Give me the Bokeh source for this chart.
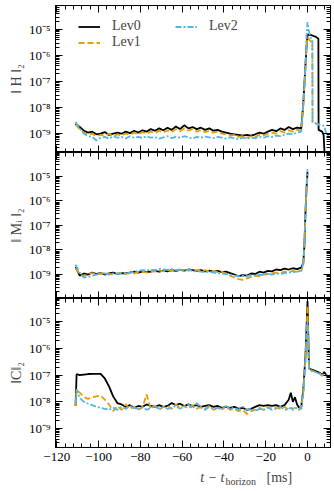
from bokeh.plotting import figure
from bokeh.layouts import column
from bokeh.models import (FixedTicker, LinearAxis, LogAxis, Range1d, CustomJSTickFormatter,
                          Legend, LegendItem, Label)
from bokeh.embed import file_html
from bokeh.resources import INLINE

# ---------------- data (values in units of 1e-9) ----------------
T_BASE = [-111, -109, -107, -105, -103, -101, -99, -97, -95, -93,
          -91, -89, -87, -85, -83, -81, -79, -77, -75, -73,
          -71, -69, -67, -65, -63, -61, -59, -57, -55, -53,
          -51, -49, -47, -45, -43, -41, -39, -37, -35, -33,
          -31, -29, -27, -25, -23, -21, -19, -17, -15, -13,
          -11, -9, -7, -5, -3]

# Hamiltonian constraint ||H||_2
H0 = [2.4, 1.8, 1.3, 1.1, 1.2, 0.95, 1.0, 1.15, 0.9, 1.0,
      1.1, 1.0, 1.2, 1.05, 1.3, 1.1, 1.35, 1.2, 1.5, 1.3,
      1.6, 1.35, 1.7, 1.4, 1.9, 1.5, 2.1, 1.6, 1.8, 1.5,
      1.7, 1.4, 1.6, 1.3, 1.4, 1.2, 1.1, 1.0, 0.95, 0.9,
      0.85, 0.9, 0.85, 0.95, 1.1, 1.0, 1.2, 1.4, 1.25, 1.6,
      1.4, 1.8, 1.5, 1.7, 1.6]
H0_TAIL_T = [-2, -1, -0.5, 0, 2, 4, 5.2, 5.3, 7, 7.7, 8.2]
H0_TAIL = [15, 400, 2000, 6400, 6000, 5200, 4400, 1.4, 1.2, 0.9, 0.15]

H1 = [2.2, 1.5, 1.1, 0.9, 1.0, 0.8, 0.9, 0.85, 1.0, 0.8,
      0.95, 0.85, 1.0, 0.9, 1.1, 0.95, 1.15, 1.0, 1.2, 1.05,
      1.3, 1.1, 1.35, 1.15, 1.5, 1.25, 1.6, 1.3, 1.5, 1.2,
      1.4, 1.15, 1.3, 1.1, 1.2, 1.0, 0.95, 0.85, 0.9, 0.75,
      0.8, 0.7, 0.8, 0.75, 0.9, 0.85, 1.0, 1.1, 1.0, 1.25,
      1.1, 1.35, 1.2, 1.4, 1.3]
H1_TAIL_T = [-2, -1, -0.5, 0, 1, 2.3, 2.4, 4, 6]
H1_TAIL = [12, 300, 2000, 5000, 4000, 3000, 2.8, 2.4, 2.2]

H2 = [2.8, 1.6, 1.0, 0.8, 0.75, 0.55, 0.7, 0.75, 0.65, 0.8,
      0.7, 0.75, 0.65, 0.8, 0.7, 0.75, 0.68, 0.8, 0.7, 0.75,
      0.65, 0.72, 0.8, 0.68, 0.75, 0.7, 0.8, 0.72, 0.65, 0.75,
      0.7, 0.78, 0.72, 0.68, 0.75, 0.7, 0.65, 0.72, 0.68, 0.62,
      0.7, 0.65, 0.72, 0.68, 0.75, 0.7, 0.8, 0.75, 0.85, 0.8,
      0.9, 1.0, 0.95, 1.1, 1.2]
H2_TAIL_T = [-2, -1, -0.5, 0, 0.5, 1.5, 2.3, 2.4, 4, 6, 8, 9, 10]
H2_TAIL = [14, 400, 5000, 19000, 10000, 5000, 4000, 2.8, 2.5, 2.2, 2.0, 1.0, 0.8]

# Momentum constraint ||M_i||_2
M_TAIL_T = [-2, -1.5, -1, -0.5, 0]
M0 = [2.0, 0.9, 1.1, 1.0, 1.2, 1.05, 1.15, 1.0, 1.1, 1.2,
      1.05, 1.15, 1.1, 1.2, 1.3, 1.2, 1.35, 1.25, 1.3, 1.4,
      1.3, 1.45, 1.35, 1.5, 1.4, 1.55, 1.45, 1.6, 1.5, 1.4,
      1.5, 1.35, 1.45, 1.3, 1.4, 1.25, 1.3, 1.15, 1.0, 0.85,
      0.95, 0.9, 1.1, 1.05, 1.3, 1.2, 1.4, 1.35, 1.6, 1.5,
      1.75, 1.6, 1.8, 1.65, 1.9]
M0_TAIL = [3, 15, 300, 3000, 15000]
M1 = [1.8, 1.0, 0.85, 1.05, 1.15, 1.0, 1.1, 1.15, 1.05, 1.0,
      1.1, 1.2, 1.05, 1.15, 1.1, 1.25, 1.3, 1.2, 1.4, 1.3,
      1.45, 1.35, 1.5, 1.4, 1.6, 1.5, 1.55, 1.45, 1.6, 1.5,
      1.4, 1.5, 1.35, 1.4, 1.25, 1.3, 1.1, 0.9, 0.75, 0.65,
      0.6, 0.7, 0.8, 0.9, 0.85, 1.0, 1.05, 1.1, 1.2, 1.15,
      1.3, 1.25, 1.4, 1.3, 1.45]
M1_TAIL = [2.5, 12, 250, 2500, 10000]
M2 = [2.5, 1.2, 0.75, 0.8, 0.9, 1.0, 1.05, 1.1, 1.0, 1.1,
      1.05, 1.15, 1.1, 1.2, 1.3, 1.4, 1.5, 1.45, 1.6, 1.5,
      1.7, 1.6, 1.55, 1.65, 1.5, 1.6, 1.45, 1.55, 1.4, 1.35,
      1.3, 1.25, 1.3, 1.2, 1.15, 1.1, 1.05, 1.0, 0.9, 0.85,
      0.9, 0.85, 0.95, 0.9, 1.0, 0.95, 1.05, 1.0, 1.1, 1.05,
      1.15, 1.2, 1.25, 1.3, 1.4]
M2_TAIL = [3, 16, 350, 4000, 20000]

# ||C||_2
T_C = [-111, -110.5, -109, -107, -105, -103, -101, -99, -97, -95,
       -93, -91, -89, -87, -85, -83, -81, -79, -77, -75,
       -73, -71, -69, -67, -65, -63, -61, -59, -57, -55,
       -53, -51, -49, -47, -45, -43, -41, -39, -37, -35,
       -33, -31, -29, -27, -25, -23, -21, -19, -17, -15,
       -13, -11, -9, -8, -7, -6, -5, -4, -3, -2,
       -1, -0.5, 0, 0.7, 1, 3, 5, 6, 7, 8,
       10]
C0 = [7, 110, 100, 105, 110, 112, 112, 112, 75, 38,
      16, 9, 8, 6.5, 7.5, 6, 7, 6.5, 8, 7,
      6.5, 7.5, 6.5, 7, 9, 7.5, 8.5, 7, 8, 7,
      7.5, 6.5, 7, 7.5, 6.5, 7, 6, 6.5, 6, 6.5,
      5.5, 6, 5, 5.5, 6.5, 7.5, 7, 7.5, 7, 7.5,
      6.5, 7.5, 12, 22, 10, 15, 8, 6, 6.5, 30,
      500, 5000, 60000, 200, 170, 150, 130, 120, 100, 130,
      80]
C1 = [7, 28, 22, 15, 13, 15, 16, 17, 12, 8,
      4.5, 7, 5, 8, 5.5, 6.5, 5, 6, 19, 5.5,
      7, 5, 6.5, 7, 5.5, 8, 6, 7, 5.5, 7.5,
      5.5, 6.5, 5.5, 7, 5, 6, 5.5, 6.5, 5, 5.5,
      4.5, 5, 3.5, 4.5, 5, 6, 5, 6.5, 5.5, 6,
      5.5, 6.5, 5, 6, 5.5, 6, 5.5, 5, 7, 25,
      400, 3000, 40000, 200, 160, 140, 120, 110, 95, 110,
      90]
C2 = [9, 30, 14, 10, 8.5, 7.5, 6.5, 6, 5.5, 5,
      6, 5, 6.5, 5.5, 7, 6, 5.5, 6.5, 5, 6,
      7, 5.5, 6.5, 5.5, 6, 7, 5.5, 6.5, 8, 5.5,
      9, 6, 5, 6.5, 5.5, 6, 5, 7, 5.5, 6,
      5, 6.5, 5, 5.5, 4.5, 5.5, 5, 6, 5, 5.5,
      6.5, 5, 5.5, 6, 5, 5.5, 6, 5.5, 5.5, 20,
      300, 3000, 10000, 200, 150, 135, 120, 115, 100, 110,
      80]

LABELS = ["Lev0", "Lev1", "Lev2"]
X_TICKS = [-120, -100, -80, -60, -40, -20, 0]
Y_TICKS = [1e-9, 1e-8, 1e-7, 1e-6, 1e-5]

# ---------------- styling ----------------
COLORS = ["black", "#E69F00", "#56B4E9"]
DASHES = ["solid", "6 3", "6 2 2 2"]
WIDTHS = [1.8, 1.8, 1.8]
FONT = "Liberation Serif"
X_MINOR = list(range(-120, 12, 4))
Y_MINOR = [k * 10.0 ** n for n in range(-11, -3) for k in range(1, 10)]
LEFT, RIGHT, FRAME_W = 55, 4, 275

xfmt = CustomJSTickFormatter(code="return tick < 0 ? '\\u2212' + Math.abs(tick) : String(tick);")
yfmt = CustomJSTickFormatter(code="""
const sup = {'-': '\\u207b', '0': '\\u2070', '1': '\\u00b9', '2': '\\u00b2', '3': '\\u00b3',
             '4': '\\u2074', '5': '\\u2075', '6': '\\u2076', '7': '\\u2077', '8': '\\u2078', '9': '\\u2079'};
const e = Math.round(Math.log10(tick));
return '10' + String(e).split('').map(c => sup[c]).join('');
""")


def style_axis(ax, show_labels):
    ax.major_tick_in = 7
    ax.major_tick_out = 0
    ax.minor_tick_in = 4
    ax.minor_tick_out = 0
    ax.axis_line_color = "black"
    ax.major_tick_line_color = "black"
    ax.minor_tick_line_color = "black"
    ax.major_label_text_font = FONT
    if show_labels:
        ax.major_label_text_color = "black"
    else:
        ax.major_label_text_font_size = "0px"
        ax.major_label_standoff = 0
        ax.major_label_text_color = None


def make_panel(yrange, frame_h, top, bottom, ylabel, show_x):
    p = figure(frame_width=FRAME_W, frame_height=frame_h,
               x_range=Range1d(-120.6, 11), y_range=Range1d(*yrange),
               y_axis_type="log", output_backend="svg", toolbar_location=None,
               min_border_left=LEFT, min_border_right=RIGHT,
               min_border_top=top, min_border_bottom=bottom)
    p.xgrid.visible = False
    p.ygrid.visible = False
    p.outline_line_color = "black"
    p.outline_line_alpha = 1.0
    p.outline_line_width = 1
    p.xaxis.ticker = FixedTicker(ticks=X_TICKS, minor_ticks=X_MINOR)
    p.xaxis.formatter = xfmt
    style_axis(p.xaxis[0], show_x)
    p.xaxis.major_label_text_font_size = "13px" if show_x else "0px"
    p.xaxis.major_label_standoff = 5 if show_x else 0
    p.yaxis.ticker = FixedTicker(ticks=Y_TICKS, minor_ticks=Y_MINOR)
    p.yaxis.formatter = yfmt
    style_axis(p.yaxis[0], True)
    p.yaxis.major_label_text_font_size = "13px"
    p.yaxis.major_label_standoff = 5
    p.yaxis.axis_label = ylabel
    p.yaxis.axis_label_text_font = FONT
    p.yaxis.axis_label_text_font_size = "14px"
    p.yaxis.axis_label_text_font_style = "normal"
    p.yaxis.axis_label_standoff = 2
    ax_top = LinearAxis(ticker=FixedTicker(ticks=X_TICKS, minor_ticks=X_MINOR))
    style_axis(ax_top, False)
    p.add_layout(ax_top, "above")
    ax_right = LogAxis(ticker=FixedTicker(ticks=Y_TICKS, minor_ticks=Y_MINOR))
    style_axis(ax_right, False)
    p.add_layout(ax_right, "right")
    return p


def nano(vals):
    return [v * 1e-9 for v in vals]


p1 = make_panel((1.9e-10, 8.3e-5), 147, 5, 0, "\u2016 H \u2016\u2082", False)
p2 = make_panel((1.05e-10, 9.5e-5), 146, 0, 0, "\u2016 M\u1d62 \u2016\u2082", False)
p3 = make_panel((1.95e-10, 7.4e-5), 149, 0, 20, "\u2016C\u2016\u2082", True)

H_SERIES = [(T_BASE + H0_TAIL_T, H0 + H0_TAIL),
            (T_BASE + H1_TAIL_T, H1 + H1_TAIL),
            (T_BASE + H2_TAIL_T, H2 + H2_TAIL)]
M_SERIES = [(T_BASE + M_TAIL_T, M0 + M0_TAIL),
            (T_BASE + M_TAIL_T, M1 + M1_TAIL),
            (T_BASE + M_TAIL_T, M2 + M2_TAIL)]
C_SERIES = [(T_C, C0), (T_C, C1), (T_C, C2)]

for tt, vv in H_SERIES + M_SERIES + C_SERIES:
    assert len(tt) == len(vv), (len(tt), len(vv))

renderers = []
for i, (tt, vv) in enumerate(H_SERIES):
    r = p1.line(tt, nano(vv), line_color=COLORS[i], line_width=WIDTHS[i], line_dash=DASHES[i])
    renderers.append(r)
for i, (tt, vv) in enumerate(M_SERIES):
    p2.line(tt, nano(vv), line_color=COLORS[i], line_width=WIDTHS[i], line_dash=DASHES[i])
for i, (tt, vv) in enumerate(C_SERIES):
    p3.line(tt, nano(vv), line_color=COLORS[i], line_width=WIDTHS[i], line_dash=DASHES[i])

legend = Legend(items=[LegendItem(label=LABELS[i], renderers=[renderers[i]]) for i in range(3)],
                ncols=2, location=(23, 102), padding=0, margin=0, spacing=0,
                border_line_color=None, background_fill_alpha=0,
                glyph_width=22, glyph_height=13, label_height=13, label_width=63,
                label_standoff=12, label_text_font=FONT, label_text_font_size="14px")
p1.add_layout(legend)

# x-axis title strip: a bare canvas whose frame is the whole strip
title = figure(width=LEFT + FRAME_W + RIGHT, height=23, x_range=Range1d(0, 1), y_range=Range1d(0, 1),
               output_backend="svg", toolbar_location=None,
               x_axis_location=None, y_axis_location=None,
               min_border_left=0, min_border_right=0, min_border_top=0, min_border_bottom=0)
title.outline_line_color = None
title.xgrid.visible = False
title.ygrid.visible = False
title.add_layout(Label(x=169, y=13, x_units="screen", y_units="screen", text="t \u2212 t",
                       text_align="right", text_baseline="alphabetic", text_font=FONT,
                       text_font_size="14px", text_font_style="italic"))
title.add_layout(Label(x=170, y=9, x_units="screen", y_units="screen", text="horizon",
                       text_align="left", text_baseline="alphabetic", text_font=FONT,
                       text_font_size="10px"))
title.add_layout(Label(x=211, y=13, x_units="screen", y_units="screen", text="[ms]",
                       text_align="left", text_baseline="alphabetic", text_font=FONT,
                       text_font_size="14px"))

layout = column(p1, p2, p3, title, spacing=0)
open("out.html", "w").write(file_html(layout, INLINE))
